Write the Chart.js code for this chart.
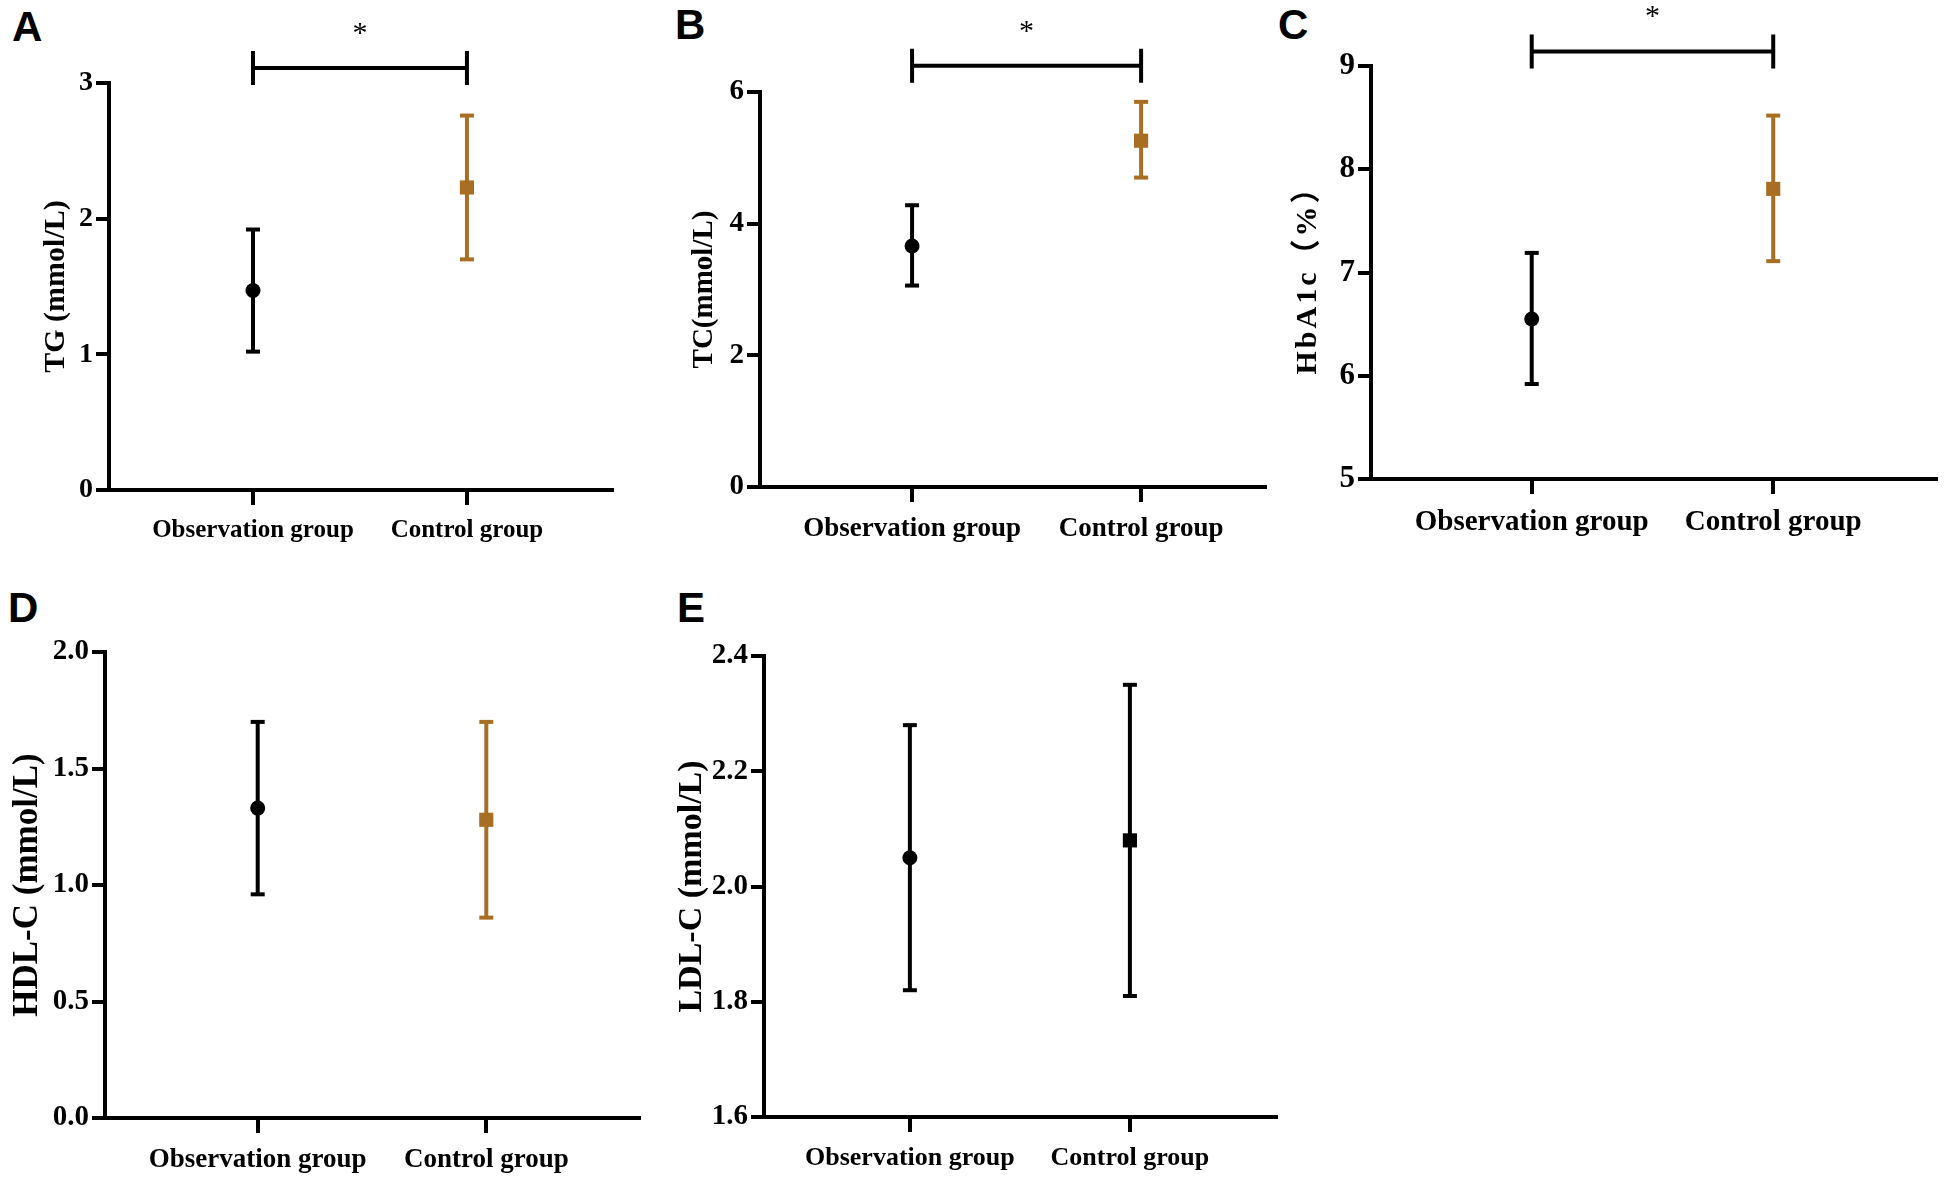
<!DOCTYPE html>
<html>
<head>
<meta charset="utf-8">
<script src="https://cdn.jsdelivr.net/npm/chart.js@4.4.1/dist/chart.umd.min.js"></script>
<style>
  body { margin: 0; background: #fff; width: 1947px; height: 1184px; position: relative; overflow: hidden; }
  canvas { position: absolute; }
  .letter { position: absolute; font: bold 42px "Liberation Sans", Arial, sans-serif; line-height: 42px; color: #000; }
</style>
</head>
<body>
<div class="letter" style="left:12px;top:6px">A</div>
<div class="letter" style="left:675px;top:4px">B</div>
<div class="letter" style="left:1278px;top:4px">C</div>
<div class="letter" style="left:8px;top:587px">D</div>
<div class="letter" style="left:677px;top:587px">E</div>

<canvas id="chartA" width="640" height="580" style="left:0;top:0"></canvas>
<canvas id="chartB" width="640" height="580" style="left:650px;top:0"></canvas>
<canvas id="chartC" width="657" height="580" style="left:1290px;top:0"></canvas>
<canvas id="chartD" width="650" height="604" style="left:0;top:580px"></canvas>
<canvas id="chartE" width="660" height="604" style="left:650px;top:580px"></canvas>

<script>
const categories = ["Observation group", "Control group"];

// mean, lower and upper end of the error bar, [observation, control]
const tgMean = [1.47, 2.23];
const tgLow = [1.02, 1.70];
const tgHigh = [1.92, 2.76];

const tcMean = [3.66, 5.26];
const tcLow = [3.06, 4.70];
const tcHigh = [4.28, 5.85];

const hbMean = [6.55, 7.81];
const hbLow = [5.92, 7.11];
const hbHigh = [7.19, 8.52];

const hdlMean = [1.33, 1.28];
const hdlLow = [0.96, 0.86];
const hdlHigh = [1.70, 1.70];

const ldlMean = [2.05, 2.08];
const ldlLow = [1.82, 1.81];
const ldlHigh = [2.28, 2.35];

// significance brackets (value on y scale) for A, B, C
const sigLevels = [3.11, 6.40, 9.14, null, null];
const sigLabels = ["*", "*", "*", "", ""];

const serif = "'Liberation Serif', 'Times New Roman', serif";
const brown = "#a86f24";

const sigPlugin = {
    id: "sig",
    afterDraw(chart, args, opts) {
        if (opts.level == null) return;
        const { ctx } = chart;
        const x = chart.scales.x;
        const y = chart.scales.y;
        const py = y.getPixelForValue(opts.level);
        const x0 = x.getPixelForValue(0);
        const x1 = x.getPixelForValue(1);
        ctx.save();
        ctx.strokeStyle = "#000";
        ctx.lineWidth = 4;
        ctx.beginPath();
        ctx.moveTo(x0, py);
        ctx.lineTo(x1, py);
        ctx.moveTo(x0, py - 17);
        ctx.lineTo(x0, py + 17);
        ctx.moveTo(x1, py - 17);
        ctx.lineTo(x1, py + 17);
        ctx.stroke();
        ctx.fillStyle = "#000";
        ctx.font = "30px " + serif;
        ctx.textAlign = "center";
        ctx.textBaseline = "middle";
        ctx.fillText(opts.label, (x0 + x1) / 2, py - 34);
        ctx.restore();
    },
};

// letter spacing for the y axis title (HbA1c panel)
const spacingPlugin = {
    id: "titleSpacing",
    afterUpdate(chart, args, opts) {
        if (!opts.px) return;
        const y = chart.scales.y;
        if (y._spaced) return;
        const orig = y.drawTitle;
        y.drawTitle = function () {
            const ctx = this.ctx;
            ctx.save();
            ctx.letterSpacing = opts.px + "px";
            orig.apply(this, arguments);
            ctx.restore();
        };
        y._spaced = true;
    },
};

const makePanel = (p) => {
    const colors = ["#000", p.ctrlColor];
    const datasets = [
        {
            data: categories.map((c, i) => ({ x: i, y: p.mean[i] })),
            pointStyle: ["circle", "rect"],
            pointRadius: [7.5, 10],
            pointBackgroundColor: colors,
            pointBorderColor: colors,
            pointBorderWidth: 0,
            showLine: false,
            order: 0,
        },
    ];
    categories.forEach((c, i) => {
        datasets.push({
            data: [
                { x: i, y: p.low[i] },
                { x: i, y: p.high[i] },
            ],
            showLine: true,
            borderColor: colors[i],
            borderWidth: 4,
            pointStyle: "line",
            pointRadius: 7,
            pointBorderWidth: 4,
            pointBorderColor: colors[i],
            order: 1,
        });
    });

    const grid = {
        display: true,
        drawOnChartArea: false,
        drawTicks: true,
        color: "#000",
        lineWidth: 4,
    };

    return new Chart(document.getElementById(p.id), {
        type: "scatter",
        data: { datasets },
        options: {
            responsive: false,
            devicePixelRatio: 1,
            animation: false,
            events: [],
            layout: { padding: { left: 0, top: p.top, right: p.right, bottom: 0 } },
            plugins: {
                legend: { display: false },
                tooltip: { enabled: false },
                sig: { level: p.sig, label: p.sigLabel },
                titleSpacing: { px: p.titleSpacing || 0 },
            },
            scales: {
                x: {
                    type: "linear",
                    min: p.xMin,
                    max: p.xMax,
                    afterBuildTicks: (s) => {
                        s.ticks = categories.map((c, i) => ({ value: i }));
                    },
                    afterFit: (s) => {
                        s.height = p.xHeight;
                    },
                    ticks: {
                        callback: (v) => categories[v],
                        autoSkip: false,
                        maxRotation: 0,
                        padding: 11,
                        color: "#000",
                        font: { family: serif, weight: "bold", size: p.catSize },
                    },
                    grid: { ...grid, tickLength: 15 },
                    border: { display: true, color: "#000", width: 4 },
                },
                y: {
                    min: p.yMin,
                    max: p.yMax,
                    afterFit: (s) => {
                        s.width = p.yWidth;
                    },
                    ticks: {
                        stepSize: p.step,
                        padding: 3,
                        color: "#000",
                        callback: (v) => v.toFixed(p.dec),
                        font: { family: serif, weight: "bold", size: p.tickSize },
                    },
                    grid: { ...grid, tickLength: 13 },
                    border: { display: true, color: "#000", width: 4 },
                    title: {
                        display: true,
                        text: p.title,
                        color: "#000",
                        padding: { top: p.titlePad, bottom: 0 },
                        font: { family: serif + ", 'Noto Sans CJK SC'", weight: "bold", size: p.titleSize },
                    },
                },
            },
        },
        plugins: [sigPlugin, spacingPlugin],
    });
};

makePanel({
    id: "chartA", title: "TG (mmol/L)", mean: tgMean, low: tgLow, high: tgHigh,
    yMin: 0, yMax: 3, step: 1, dec: 0, sig: sigLevels[0], sigLabel: sigLabels[0], ctrlColor: brown,
    top: 83, right: 28, yWidth: 109, xHeight: 90, xMin: -0.673, xMax: 1.678,
    catSize: 25, tickSize: 28, titleSize: 30, titlePad: 38,
});

makePanel({
    id: "chartB", title: "TC(mmol/L)", mean: tcMean, low: tcLow, high: tcHigh,
    yMin: 0, yMax: 6, step: 2, dec: 0, sig: sigLevels[1], sigLabel: sigLabels[1], ctrlColor: brown,
    top: 92, right: 25, yWidth: 110, xHeight: 93, xMin: -0.664, xMax: 1.541,
    catSize: 27, tickSize: 29, titleSize: 29, titlePad: 37,
});

makePanel({
    id: "chartC", title: "HbA1c（%）", mean: hbMean, low: hbLow, high: hbHigh,
    yMin: 5, yMax: 9, step: 1, dec: 0, sig: sigLevels[2], sigLabel: sigLabels[2], ctrlColor: brown,
    top: 66, right: 3, yWidth: 81, xHeight: 101, xMin: -0.6655, xMax: 1.674,
    catSize: 29, tickSize: 31, titleSize: 30, titlePad: 0, titleSpacing: 3,
});

makePanel({
    id: "chartD", title: "HDL-C (mmol/L)", mean: hdlMean, low: hdlLow, high: hdlHigh,
    yMin: 0, yMax: 2, step: 0.5, dec: 1, sig: sigLevels[3], sigLabel: sigLabels[3], ctrlColor: brown,
    top: 72, right: 11, yWidth: 105, xHeight: 66, xMin: -0.668, xMax: 1.668,
    catSize: 27, tickSize: 29, titleSize: 35, titlePad: 7,
});

makePanel({
    id: "chartE", title: "LDL-C (mmol/L)", mean: ldlMean, low: ldlLow, high: ldlHigh,
    yMin: 1.6, yMax: 2.4, step: 0.2, dec: 1, sig: sigLevels[4], sigLabel: sigLabels[4], ctrlColor: "#000",
    top: 76, right: 34, yWidth: 114, xHeight: 67, xMin: -0.663, xMax: 1.664,
    catSize: 26, tickSize: 29, titleSize: 34, titlePad: 22,
});
</script>
</body>
</html>
